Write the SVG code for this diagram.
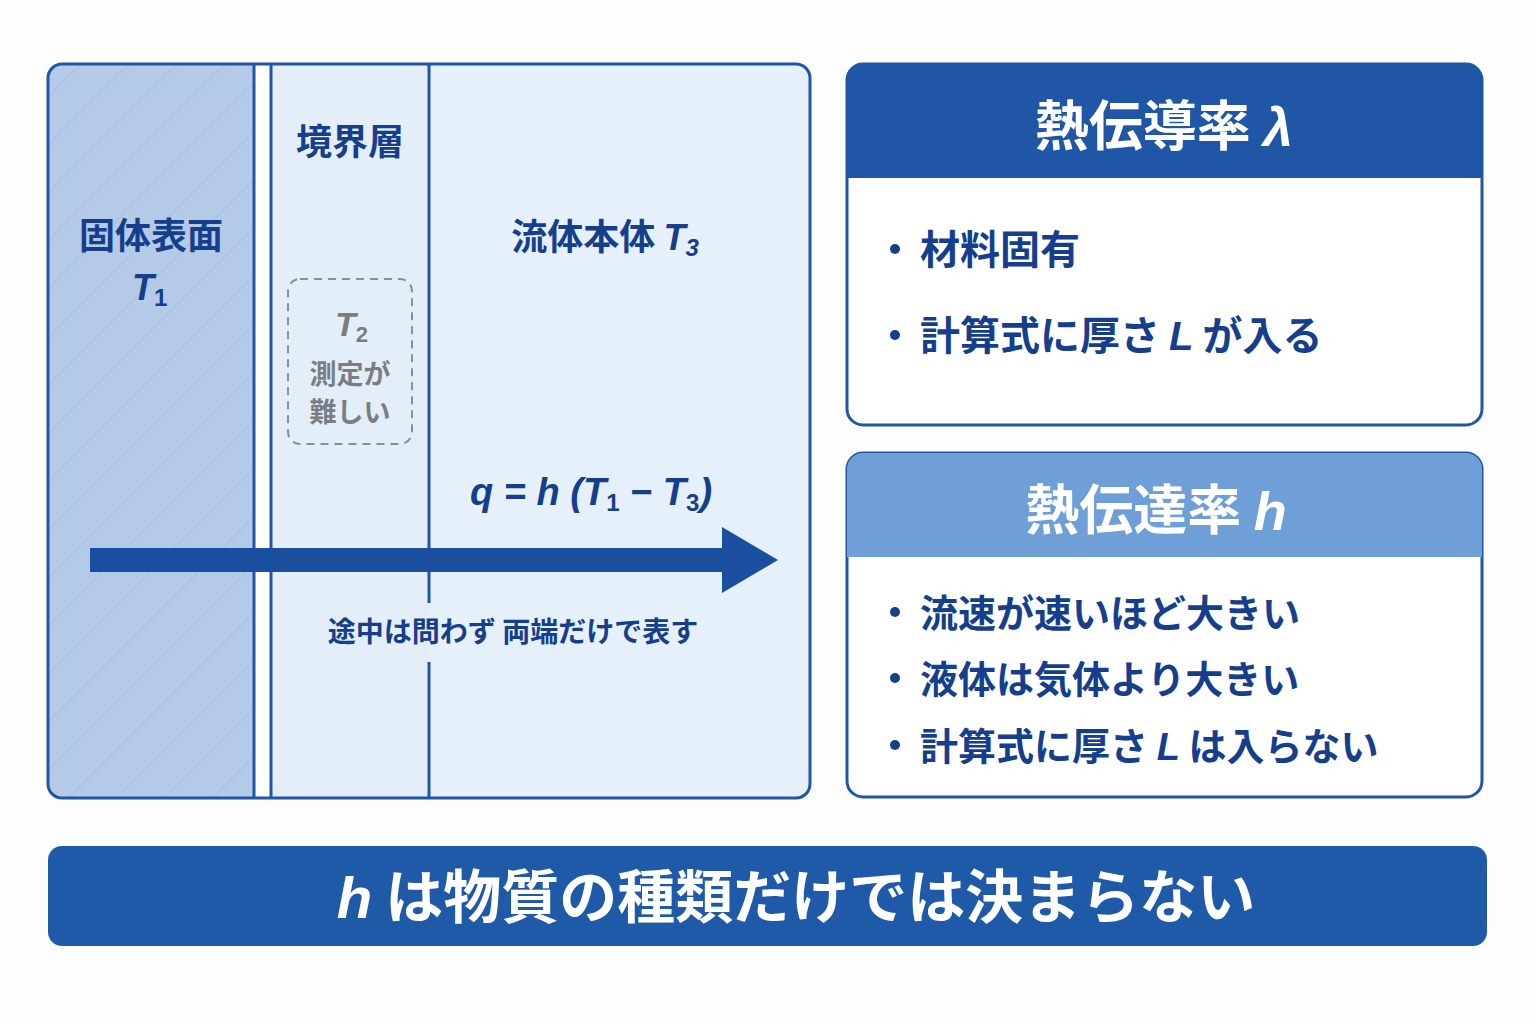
<svg xmlns="http://www.w3.org/2000/svg" width="1536" height="1024" viewBox="0 0 1536 1024">
<defs>
<style>
.t{font-family:"Noto Sans CJK JP","Liberation Sans",sans-serif;font-weight:bold;fill:#153f8c}
.m{font-family:"Liberation Sans",sans-serif;font-weight:bold;font-style:italic;fill:#153f8c}
.w{fill:#fff}
.ln{stroke:#1f56a5;stroke-width:3;fill:none}
</style>
<pattern id="hatch" width="34" height="34" patternUnits="userSpaceOnUse" patternTransform="rotate(45)">
<line x1="0" y1="0" x2="0" y2="34" stroke="#9cb6da" stroke-width="1.2"/>
</pattern>
<clipPath id="pc"><rect x="48" y="64" width="762" height="734" rx="14"/></clipPath>
</defs>
<rect width="1536" height="1024" fill="#fdfdfe"/>
<g id="panel">
<g clip-path="url(#pc)">
<rect x="48" y="64" width="762" height="734" fill="#e6f0fa"/>
<rect x="48" y="64" width="206" height="734" fill="#b4cae7"/>
<rect x="48" y="64" width="206" height="734" fill="url(#hatch)"/>
<rect x="254" y="64" width="17" height="734" fill="#ffffff"/>
<rect x="271" y="64" width="158" height="734" fill="#e3eef9"/>
</g>
<line class="ln" x1="254" y1="64" x2="254" y2="798"/>
<line class="ln" x1="271" y1="64" x2="271" y2="798"/>
<line class="ln" x1="429" y1="64" x2="429" y2="603"/>
<line class="ln" x1="429" y1="662" x2="429" y2="798"/>
<rect x="48" y="64" width="762" height="734" rx="14" class="ln"/>
</g>
<g id="solid">
<text class="t" x="151" y="249" font-size="36" text-anchor="middle">固体表面</text>
<text class="m" x="132" y="300" font-size="36">T<tspan font-size="24" font-style="normal" dy="6">1</tspan></text>
</g>
<g id="boundary">
<text class="t" x="350" y="155" font-size="36" text-anchor="middle">境界層</text>
<rect x="288" y="279" width="124" height="165" rx="12" fill="none" stroke="#8a8f96" stroke-width="2" stroke-dasharray="8 6"/>
<text class="m" x="335" y="336" font-size="34" fill="#777" style="fill:#7a7d82">T<tspan font-size="22" font-style="normal" dy="6">2</tspan></text>
<text class="t" x="350" y="384" font-size="27" text-anchor="middle" style="fill:#7a7d82">測定が</text>
<text class="t" x="350" y="422" font-size="27" text-anchor="middle" style="fill:#7a7d82">難しい</text>
</g>
<g id="fluid">
<text class="t" x="605" y="250" font-size="36" text-anchor="middle">流体本体 <tspan class="m">T</tspan><tspan class="m" font-size="24" font-style="normal" dy="6">3</tspan></text>
<text class="m" x="470" y="505" font-size="38">q = h (T<tspan font-size="24" font-style="normal" dy="6">1</tspan><tspan dy="-6"> − T</tspan><tspan font-size="24" font-style="normal" dy="6">3</tspan><tspan dy="-6">)</tspan></text>
<text class="t" x="513" y="642" font-size="28" text-anchor="middle">途中は問わず 両端だけで表す</text>
</g>
<g id="connectors">
<path d="M90 548 H722 V527 L778 560 L722 593 V572 H90 Z" fill="#1a4fa0"/>
</g>
<g id="lambda">
<rect x="847" y="64" width="635" height="361" rx="16" fill="#fff" stroke="#1f56a5" stroke-width="3"/>
<path d="M863 64 H1466 A16 16 0 0 1 1482 80 V178 H847 V80 A16 16 0 0 1 863 64 Z" fill="#1f56a5"/>
<text class="t w" x="1164" y="146" font-size="54" text-anchor="middle" style="fill:#fff">熱伝導率 <tspan font-family="Liberation Sans" font-style="italic">λ</tspan></text>
<circle cx="895" cy="249" r="5" fill="#153f8c"/>
<text class="t" x="920" y="264" font-size="40">材料固有</text>
<circle cx="895" cy="335" r="5" fill="#153f8c"/>
<text class="t" x="920" y="350" font-size="40">計算式に厚さ <tspan class="m">L</tspan> が入る</text>
</g>
<g id="h">
<rect x="847" y="453" width="635" height="344" rx="16" fill="#fff" stroke="#1f56a5" stroke-width="3"/>
<path d="M863 453 H1466 A16 16 0 0 1 1482 469 V557 H847 V469 A16 16 0 0 1 863 453 Z" fill="#6e9fd6"/>
<text class="t" x="1156" y="530" font-size="54" text-anchor="middle" style="fill:#fff">熱伝達率 <tspan class="m" style="fill:#fff">h</tspan></text>
<circle cx="895" cy="612" r="5" fill="#153f8c"/>
<text class="t" x="920" y="627" font-size="38">流速が速いほど大きい</text>
<circle cx="895" cy="678" r="5" fill="#153f8c"/>
<text class="t" x="920" y="693" font-size="38">液体は気体より大きい</text>
<circle cx="895" cy="745" r="5" fill="#153f8c"/>
<text class="t" x="920" y="760" font-size="38">計算式に厚さ <tspan class="m">L</tspan> は入らない</text>
</g>
<g id="banner">
<rect x="48" y="846" width="1439" height="100" rx="14" fill="#1f5aa8"/>
<text class="t" x="796" y="918" font-size="58" text-anchor="middle" style="fill:#fff"><tspan class="m" style="fill:#fff">h</tspan> は物質の種類だけでは決まらない</text>
</g>
</svg>
